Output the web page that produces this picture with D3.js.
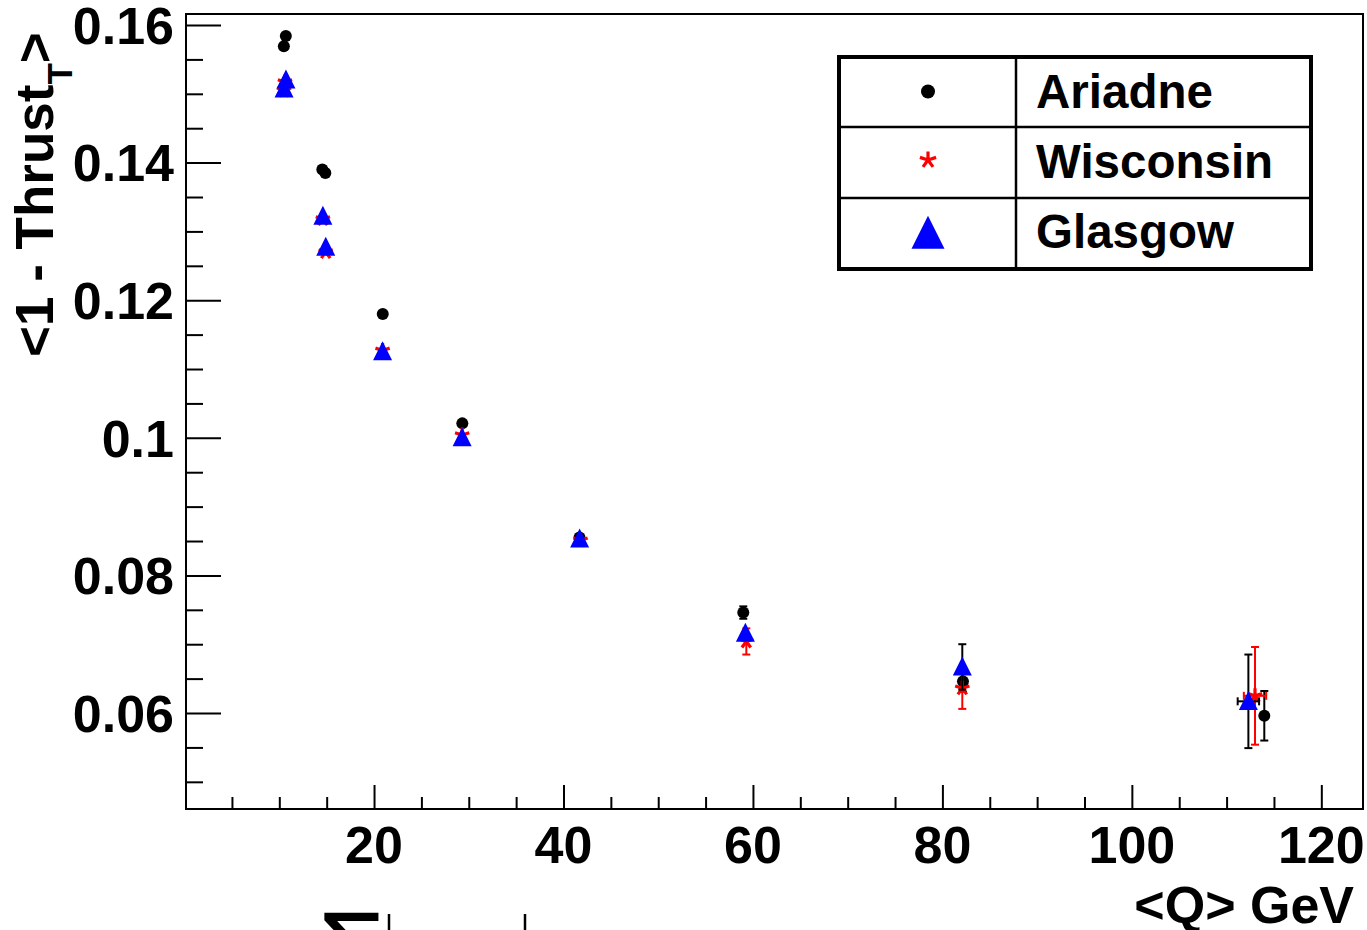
<!DOCTYPE html>
<html>
<head>
<meta charset="utf-8">
<script src="https://cdn.jsdelivr.net/npm/d3@7"></script>
<style>
  body { margin: 0; background: #fff; }
  svg { display: block; font-family: "Liberation Sans", Arial, sans-serif; font-weight: bold; }
</style>
</head>
<body>
<div id="chart"></div>
<script>
// <Q> (GeV) and <1 - Thrust_T> per generator
const qAriadne = [10.69, 10.48, 14.54, 14.86, 20.92, 29.32, 41.69, 58.98, 82.17, 113.98];
const tAriadne = [0.1584, 0.1569, 0.1390, 0.1385, 0.1180, 0.1021, 0.0855, 0.0746, 0.0646, 0.0596];
const eAriadne = [0, 0, 0, 0, 0, 0, 0, 0.0009, 0.0015, 0.0036];
const qeAriadne = [0, 0, 0, 0, 0, 0, 0, 0, 0, 0];

const qWisconsin = [10.6, 10.5, 14.6, 14.9, 20.9, 29.3, 41.8, 59.3, 82.1, 113.0];
const tWisconsin = [0.1517, 0.1505, 0.1318, 0.1270, 0.1127, 0.1004, 0.0851, 0.0704, 0.0636, 0.0625];
const eWisconsin = [0, 0, 0, 0, 0, 0, 0, 0.0019, 0.0030, 0.0071];
const qeWisconsin = [0, 0, 0, 0, 0, 0, 0, 0, 0, 1.18];

const qGlasgow = [10.7, 10.5, 14.6, 14.9, 20.9, 29.3, 41.7, 59.2, 82.1, 112.3];
const tGlasgow = [0.1520, 0.1507, 0.1322, 0.1277, 0.1125, 0.1000, 0.0853, 0.0716, 0.0667, 0.0617];
const eGlasgow = [0, 0, 0, 0, 0, 0, 0, 0, 0.0033, 0.0068];
const qeGlasgow = [0, 0, 0, 0, 0, 0, 0, 0, 0, 1.13];

const xMajor = [20, 40, 60, 80, 100, 120];
const xMinor = [5, 10, 15, 25, 30, 35, 45, 50, 55, 65, 70, 75, 85, 90, 95, 105, 110, 115];
const yMajor = [0.06, 0.08, 0.1, 0.12, 0.14, 0.16];
const yMinor = [0.05, 0.055, 0.065, 0.07, 0.075, 0.085, 0.09, 0.095, 0.105, 0.11, 0.115,
                0.125, 0.13, 0.135, 0.145, 0.15, 0.155];

const legendNames = ["Ariadne", "Wisconsin", "Glasgow"];

const width = 1367, height = 930;
const margin = { left: 186, top: 14, right: 4, bottom: 121 };
const w = width - margin.left - margin.right;
const h = height - margin.top - margin.bottom;

const svg = d3.select("#chart").append("svg")
  .attr("width", width)
  .attr("height", height);

const g = svg.append("g").attr("transform", `translate(${margin.left},${margin.top})`);

const x = d3.scaleLinear().domain([0.15, 124.4]).range([0, w]);
const y = d3.scaleLinear().domain([0.04605, 0.1616]).range([h, 0]);

// frame
g.append("rect")
  .attr("width", w).attr("height", h)
  .attr("fill", "none").attr("stroke", "#000").attr("stroke-width", 2);

// x axis (minor and major ticks in their own groups)
[[xMinor, -12], [xMajor, -24]].forEach(([vals, size]) => {
  const ax = g.append("g").attr("transform", `translate(0,${h})`)
    .call(d3.axisBottom(x).tickValues(vals).tickSize(size).tickFormat(""));
  ax.selectAll(".domain").remove();
  ax.selectAll("line").attr("stroke-width", 2);
});

g.append("g").selectAll("text")
  .data(xMajor)
  .enter().append("text")
  .attr("x", d => x(d))
  .attr("y", h + 54)
  .attr("text-anchor", "middle")
  .style("font-size", "52px")
  .text(d => d);

// y axis
[[yMinor, -17], [yMajor, -35]].forEach(([vals, size]) => {
  const ax = g.append("g")
    .call(d3.axisLeft(y).tickValues(vals).tickSize(size).tickFormat(""));
  ax.selectAll(".domain").remove();
  ax.selectAll("line").attr("stroke-width", 2);
});

g.append("g").selectAll("text")
  .data(yMajor)
  .enter().append("text")
  .attr("x", -12)
  .attr("y", d => y(d))
  .attr("dy", "0.36em")
  .attr("text-anchor", "end")
  .style("font-size", "52px")
  .text(d => String(+d.toFixed(2)));

// axis titles
const yTitle = svg.append("text")
  .attr("transform", "translate(53,357) rotate(-90)")
  .style("font-size", "53px");
yTitle.append("tspan").text("<1 - Thrust");
yTitle.append("tspan").attr("dy", 19).style("font-size", "35px").text("T");
yTitle.append("tspan").attr("dy", -19).text(">");

svg.append("text")
  .attr("x", 1354)
  .attr("y", 923)
  .attr("text-anchor", "end")
  .style("font-size", "52px")
  .text("<Q> GeV");

// markers
const triPath = s => `M0,${-s * 0.55}L${s / 2},${s * 0.45}L${-s / 2},${s * 0.45}Z`;
function starPath(r) {
  let p = "";
  for (let i = 0; i < 5; i++) {
    const a = -Math.PI / 2 + i * 2 * Math.PI / 5;
    p += `M0,0L${(r * Math.cos(a)).toFixed(2)},${(r * Math.sin(a)).toFixed(2)}`;
  }
  return p;
}

function drawSeries(qs, ts, es, qes, barColor, marker) {
  const data = qs.map((q, i) => ({ q, t: ts[i], e: es[i], qe: qes[i] }));
  const grp = g.append("g");
  const cap = 4;
  data.filter(d => d.e > 0).forEach(d => {
    const cx = x(d.q), y0 = y(d.t - d.e), y1 = y(d.t + d.e);
    grp.append("line").attr("x1", cx).attr("x2", cx).attr("y1", y0).attr("y2", y1)
      .attr("stroke", barColor).attr("stroke-width", 2);
    [y0, y1].forEach(yy => grp.append("line")
      .attr("x1", cx - cap).attr("x2", cx + cap).attr("y1", yy).attr("y2", yy)
      .attr("stroke", barColor).attr("stroke-width", 2));
  });
  data.filter(d => d.qe > 0).forEach(d => {
    const cy = y(d.t), x0 = x(d.q - d.qe), x1 = x(d.q + d.qe);
    grp.append("line").attr("x1", x0).attr("x2", x1).attr("y1", cy).attr("y2", cy)
      .attr("stroke", barColor).attr("stroke-width", 2);
    [x0, x1].forEach(xx => grp.append("line")
      .attr("x1", xx).attr("x2", xx).attr("y1", cy - cap).attr("y2", cy + cap)
      .attr("stroke", barColor).attr("stroke-width", 2));
  });
  grp.selectAll("path.m")
    .data(data)
    .enter().append("path")
    .attr("class", "m")
    .attr("transform", d => `translate(${x(d.q)},${y(d.t)})`)
    .each(function () { marker(d3.select(this)); });
}

const drawCircle = (sel, r = 6) => sel.attr("d", d3.symbol().type(d3.symbolCircle).size(Math.PI * r * r)).attr("fill", "#000");
const drawStar = (sel, r = 7.5) => sel.attr("d", starPath(r)).attr("fill", "none")
  .attr("stroke", "#ff0000").attr("stroke-width", 3.2).attr("stroke-linecap", "butt");
const drawTri = (sel, s = 19) => sel.attr("d", triPath(s)).attr("fill", "#0000ff");

drawSeries(qAriadne, tAriadne, eAriadne, qeAriadne, "#000", s => drawCircle(s));
drawSeries(qWisconsin, tWisconsin, eWisconsin, qeWisconsin, "#ff0000", s => drawStar(s));
drawSeries(qGlasgow, tGlasgow, eGlasgow, qeGlasgow, "#000", s => drawTri(s));

// legend
const lg = svg.append("g");
lg.append("rect")
  .attr("x", 839).attr("y", 57).attr("width", 472).attr("height", 212)
  .attr("fill", "#fff").attr("stroke", "#000").attr("stroke-width", 4);
lg.append("line").attr("x1", 1016).attr("x2", 1016).attr("y1", 57).attr("y2", 269)
  .attr("stroke", "#000").attr("stroke-width", 2.5);
[127, 198].forEach(yy => lg.append("line")
  .attr("x1", 839).attr("x2", 1311).attr("y1", yy).attr("y2", yy)
  .attr("stroke", "#000").attr("stroke-width", 2.5));

const legendRows = [91.5, 160, 234];
drawCircle(lg.append("path").attr("transform", `translate(928,${legendRows[0]})`), 7);
drawStar(lg.append("path").attr("transform", `translate(928,${legendRows[1]})`), 8.5);
drawTri(lg.append("path").attr("transform", `translate(928,${legendRows[2]})`), 33);

lg.selectAll("text.name")
  .data(legendNames)
  .enter().append("text")
  .attr("class", "name")
  .attr("x", 1036)
  .attr("y", (d, i) => [108, 178, 248][i])
  .style("font-size", "47.5px")
  .text(d => d);

// fragment of the next figure peeking in at the bottom
svg.append("text")
  .attr("x", 322).attr("y", 976)
  .style("font-family", "DejaVu Sans").style("font-weight", "normal")
  .style("font-size", "88px")
  .text("∑");
[389, 525].forEach(xx => svg.append("line")
  .attr("x1", xx).attr("x2", xx).attr("y1", 914).attr("y2", 930)
  .attr("stroke", "#000").attr("stroke-width", 2.5));
</script>
</body>
</html>
